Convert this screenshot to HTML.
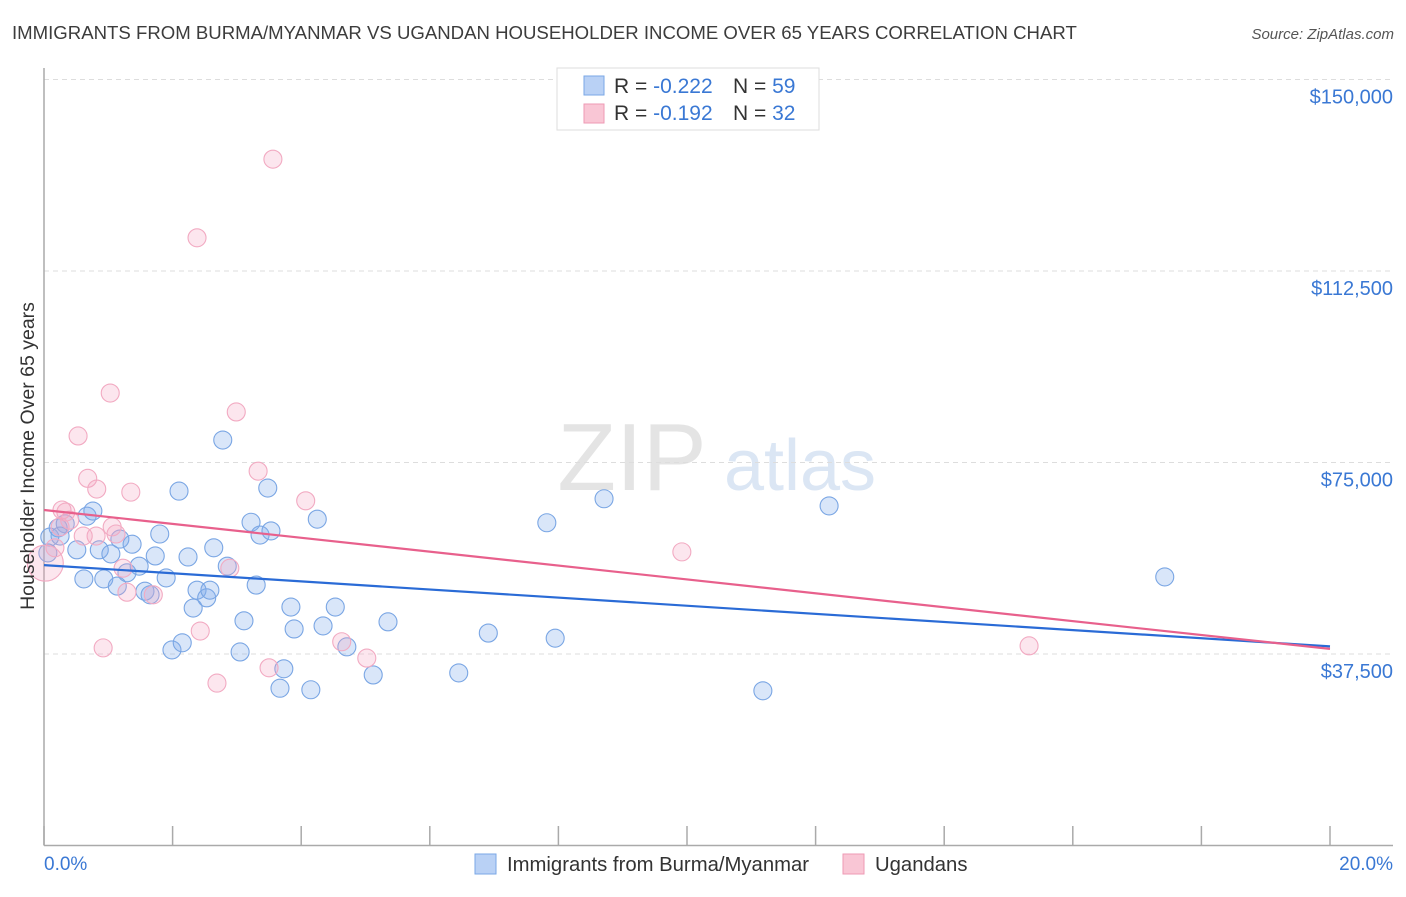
<!DOCTYPE html>
<html><head><meta charset="utf-8"><style>
body{margin:0;background:#fff;font-family:"Liberation Sans",sans-serif;}
svg text{font-family:"Liberation Sans",sans-serif;}
</style></head><body>
<svg id="chart" width="1406" height="892" viewBox="0 0 1406 892" xmlns="http://www.w3.org/2000/svg">
<text x="12" y="39" font-size="18.6" fill="#3c3c3c">IMMIGRANTS FROM BURMA/MYANMAR VS UGANDAN HOUSEHOLDER INCOME OVER 65 YEARS CORRELATION CHART</text>
<text x="1394" y="39" font-size="15" fill="#555" font-style="italic" text-anchor="end">Source: ZipAtlas.com</text>
<g>
<text x="632" y="490" font-size="96" fill="#e4e4e4" font-family="Liberation Serif" text-anchor="middle">ZIP</text>
<text x="800" y="490" font-size="72" fill="#dbe6f4" text-anchor="middle">atlas</text>
</g>
<g id="grid"></g>
<g id="axes"></g>
<g id="points"></g>
<g id="trends"></g>
<text transform="translate(34,456) rotate(-90)" font-size="19.5" fill="#333" text-anchor="middle">Householder Income Over 65 years</text>
<text x="44" y="870" font-size="19" fill="#3a78d4">0.0%</text>
<text x="1393" y="870" font-size="19" fill="#3a78d4" text-anchor="end">20.0%</text>
<g>
<rect x="557" y="68" width="262" height="62" fill="#fff" stroke="#ddd"/>
<rect x="584" y="76" width="20" height="19" fill="#b9d1f5" stroke="#7aa7e6"/>
<rect x="584" y="104" width="20" height="19" fill="#f9c6d5" stroke="#ee9ab4"/>
<text x="614" y="93" font-size="21" fill="#333">R = <tspan fill="#3a78d4">-0.222</tspan></text>
<text x="733" y="93" font-size="21" fill="#333">N = <tspan fill="#3a78d4">59</tspan></text>
<text x="614" y="120" font-size="21" fill="#333">R =  <tspan fill="#3a78d4">-0.192</tspan></text>
<text x="733" y="120" font-size="21" fill="#333">N = <tspan fill="#3a78d4">32</tspan></text>
</g>
<g>
<rect x="475" y="854" width="21" height="20" fill="#b9d1f5" stroke="#7aa7e6"/>
<text x="507" y="871" font-size="20.3" fill="#333">Immigrants from Burma/Myanmar</text>
<rect x="843" y="854" width="21" height="20" fill="#f9c6d5" stroke="#ee9ab4"/>
<text x="875" y="871" font-size="20.3" fill="#333">Ugandans</text>
</g>
</svg>
<script>
const yTicks=[37500,75000,112500,150000];
const yTickLabels=["$37,500","$75,000","$112,500","$150,000"];
const xTicks=[0,2,4,6,8,10,12,14,16,18,20];
const blueX=[0.09,0.22,0.33,0.25,0.51,0.62,0.67,0.76,0.86,0.93,1.04,1.14,1.18,1.29,1.37,1.48,1.57,1.65,1.73,1.80,1.90,1.99,2.10,2.15,2.24,2.32,2.38,2.53,2.58,2.64,2.78,2.85,3.05,3.11,3.22,3.30,3.36,3.48,3.53,3.67,3.73,3.84,3.89,4.15,4.25,4.34,4.53,4.71,5.12,5.35,6.45,6.91,7.82,7.95,8.71,11.18,12.21,17.43,0.06];
const blueY=[60400,62200,63000,60600,57900,52200,64500,65500,57900,52200,57100,50800,60000,53400,59000,54700,49800,49100,56700,61000,52400,38300,69400,39700,56500,46500,50000,48500,50000,58300,79400,54700,37900,44000,63300,51000,60800,70000,61600,30800,34600,46700,42400,30500,63900,43000,46700,38900,33400,43800,33800,41600,63200,40600,67900,30300,66500,52600,57300];
const pinkX=[0.02,0.17,0.28,0.40,0.53,0.68,0.82,0.92,1.03,1.06,1.12,1.23,1.29,1.35,1.70,2.38,2.43,2.69,2.89,2.99,3.33,3.50,3.56,4.07,4.63,5.02,9.92,15.32,0.81,0.34,0.61,0.25];
const pinkY=[55300,58300,65700,63700,80200,71900,69800,38700,88600,62400,61000,54300,49600,69200,49100,119000,42000,31800,54300,84900,73300,34800,134400,67500,39900,36700,57500,39100,60600,65300,60600,62400];
const blueTrend=[54900,39000];
const pinkTrend=[65700,38500];
const NS="http://www.w3.org/2000/svg";
const X0=44,X1=1330,Y0=845.5,YPER=191.5/37500;
function xs(v){return X0+(X1-X0)*v/20;}
function ys(v){return Y0-v*YPER;}
function mk(tag,attrs,parent){const e=document.createElementNS(NS,tag);for(const k in attrs)e.setAttribute(k,attrs[k]);parent.appendChild(e);return e;}
const grid=document.getElementById('grid'),axes=document.getElementById('axes'),pts=document.getElementById('points'),tr=document.getElementById('trends');
yTicks.forEach((t,i)=>{
 const l=mk('line',{x1:X0,x2:1393,y1:ys(t),y2:ys(t),stroke:'#ddd','stroke-dasharray':'5,4'},grid);
 
 
 const tx=mk('text',{x:1393,y:ys(t)+24,'font-size':20,fill:'#3a78d4','text-anchor':'end'},axes);
 tx.textContent=yTickLabels[i];
 
 
});
const ya=mk('line',{x1:X0,x2:X0,y1:68,y2:Y0,stroke:'#aaa','stroke-width':1.5},axes);


const xa=mk('line',{x1:X0,x2:1393,y1:Y0,y2:Y0,stroke:'#aaa','stroke-width':1.5},axes);


xTicks.forEach(t=>{
 const l=mk('line',{x1:xs(t),x2:xs(t),y1:826,y2:Y0,stroke:'#aaa','stroke-width':1.5},axes);
 
 
});
function dots(X,Y,fill,stroke,name){X.forEach((x,i)=>{
 const r=(name==='pink-point'&&i===0)?18:9;
 const c=mk('circle',{cx:xs(x),cy:ys(Y[i]),r:r,fill:fill,stroke:stroke,'stroke-width':1.1},pts);
 
 
});}
dots(blueX,blueY,'rgba(130,172,235,0.3)','#7aa6e4','blue-point');
dots(pinkX,pinkY,'rgba(245,165,195,0.28)','#f2aac2','pink-point');
const bl=mk('line',{x1:xs(0),x2:xs(20),y1:ys(blueTrend[0]),y2:ys(blueTrend[1]),stroke:'#2a6bd6','stroke-width':2.2},tr);


const pl=mk('line',{x1:xs(0),x2:xs(20),y1:ys(pinkTrend[0]),y2:ys(pinkTrend[1]),stroke:'#e8608c','stroke-width':2.2},tr);


</script>
</body></html>
